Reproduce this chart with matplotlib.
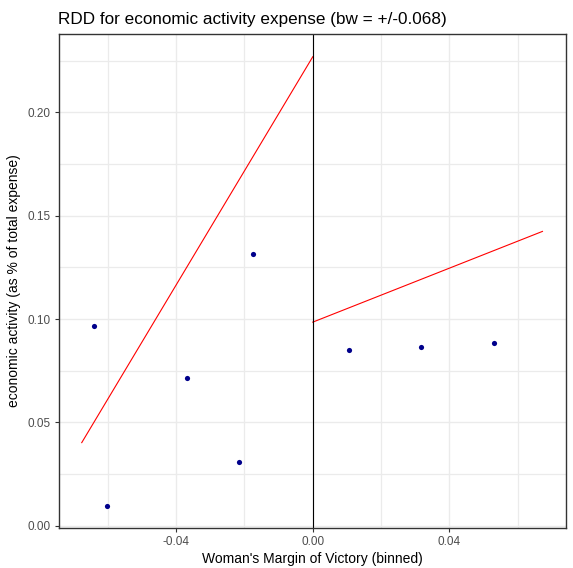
import matplotlib

matplotlib.use("Agg")
import matplotlib.pyplot as plt
from matplotlib.ticker import FixedLocator, MultipleLocator

plt.rcParams["font.family"] = ["Liberation Sans", "DejaVu Sans"]

# binned means of expense share by margin of victory
BIN_X = [-0.0641, -0.0601, -0.0368, -0.0215, -0.0176, 0.0105, 0.0317, 0.0531]
BIN_Y = [0.0968, 0.0097, 0.0713, 0.0310, 0.1313, 0.0849, 0.0866, 0.0884]

# local linear fits on each side of the cutoff
LEFT_FIT_X = [-0.0676, 0.0]
LEFT_FIT_Y = [0.0402, 0.2269]
RIGHT_FIT_X = [0.0, 0.0672]
RIGHT_FIT_Y = [0.0985, 0.1424]

X_TICKS = [-0.04, 0.0, 0.04]
X_TICK_LABELS = ["-0.04", "0.00", "0.04"]
Y_TICKS = [0.0, 0.05, 0.10, 0.15, 0.20]
Y_TICK_LABELS = ["0.00", "0.05", "0.10", "0.15", "0.20"]

W, H = 573, 568
fig = plt.figure(figsize=(W / 100, H / 100), dpi=100)
ax = fig.add_axes([58.5 / W, (H - 528) / H, (565.7 - 58.5) / W, (528 - 34) / H])

ax.set_xlim(-0.0744, 0.0740)
ax.set_ylim(-0.0011, 0.2379)

ax.xaxis.set_major_locator(FixedLocator(X_TICKS))
ax.xaxis.set_minor_locator(MultipleLocator(0.02))
ax.yaxis.set_major_locator(FixedLocator(Y_TICKS))
ax.yaxis.set_minor_locator(MultipleLocator(0.025))
ax.set_xticklabels(X_TICK_LABELS)
ax.set_yticklabels(Y_TICK_LABELS)

ax.grid(True, which="major", color="#EBEBEB", linewidth=1.0, zorder=0)
ax.grid(True, which="minor", color="#EBEBEB", linewidth=0.9, zorder=0)
ax.set_axisbelow(True)

ax.tick_params(which="major", length=3, width=0.8, color="#333333",
               labelsize=8.5, labelcolor="#4D4D4D", pad=3)
ax.tick_params(which="minor", length=0)
for spine in ax.spines.values():
    spine.set_color("#333333")
    spine.set_linewidth(1.0)

ax.plot(LEFT_FIT_X, LEFT_FIT_Y, color="red", linewidth=0.8, zorder=2)
ax.plot(RIGHT_FIT_X, RIGHT_FIT_Y, color="red", linewidth=0.8, zorder=2)
ax.axvline(0, color="black", linewidth=0.8, zorder=2)
ax.scatter(BIN_X, BIN_Y, s=14, color="#00008B", zorder=3, linewidths=0)

ax.set_xlabel("Woman's Margin of Victory (binned)", fontsize=10, labelpad=3)
ax.set_ylabel("economic activity (as % of total expense)", fontsize=10, labelpad=4)
ax.set_title("RDD for economic activity expense (bw = +/-0.068)",
             fontsize=12.3, loc="left", pad=7)

fig.savefig("out.png", dpi=100)
